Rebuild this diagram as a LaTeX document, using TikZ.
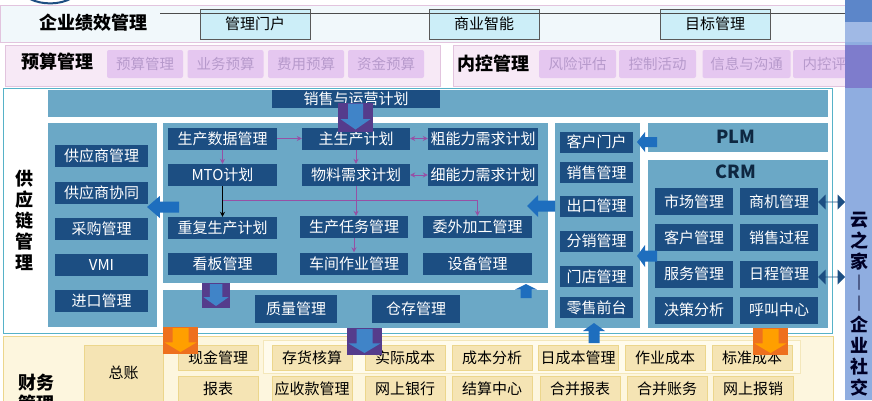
\documentclass[tikz,border=0pt]{standalone}
\usepackage{fontspec}
\setmainfont{Noto Sans CJK SC}
\usepackage{xcolor}
\definecolor{scblue}{RGB}{28,78,130}
\definecolor{scteal}{RGB}{107,168,198}
\definecolor{scframe}{RGB}{86,178,200}
\definecolor{topbg}{RGB}{241,248,251}
\definecolor{topline}{RGB}{226,196,222}
\definecolor{topcyan}{RGB}{204,238,248}
\definecolor{budbg}{RGB}{247,233,246}
\definecolor{budbox}{RGB}{229,199,240}
\definecolor{budtext}{RGB}{183,154,204}
\definecolor{finbg}{RGB}{253,246,222}
\definecolor{finpale}{RGB}{255,251,236}
\definecolor{finline}{RGB}{236,214,140}
\definecolor{finbox}{RGB}{245,228,180}
\definecolor{flowpurple}{RGB}{150,80,165}
\definecolor{arrblue}{RGB}{30,110,190}
\definecolor{arrpurple}{RGB}{85,60,140}
\definecolor{arrorange}{RGB}{238,112,30}
\definecolor{sidebar}{RGB}{143,173,224}
\definecolor{sidetop}{RGB}{92,134,201}
\definecolor{sidemid}{RGB}{126,124,204}
\usepackage{tikz}
\usetikzlibrary{arrows.meta, positioning, shapes.arrows}

\tikzset{
  dbox/.style={fill=scblue, text=white, inner sep=0pt, minimum height=22pt,
    font=\fontsize{15}{15}\selectfont},
  crmbox/.style={dbox, minimum width=78pt, minimum height=27pt},
  salebox/.style={dbox, minimum width=73pt, minimum height=21pt},
  supbox/.style={dbox, minimum width=93pt},
  topbox/.style={fill=topcyan, draw=gray!70!black, inner sep=0pt,
    minimum width=110pt, minimum height=30pt, font=\fontsize{15}{15}\selectfont},
  budgetbox/.style={fill=budbox, text=budtext, rounded corners=2pt, inner sep=0pt,
    minimum height=28pt, font=\fontsize{14.5}{14.5}\selectfont},
  finitem/.style={fill=finbox, draw=finline, inner sep=0pt, minimum width=80pt,
    font=\fontsize{15}{15}\selectfont},
  headline/.style={inner sep=0pt, font=\fontsize{18}{21}\selectfont\bfseries, align=center},
  flow/.style={flowpurple, line width=0.9pt, -{Stealth[length=5pt,width=5pt]}},
  twoway/.style={flowpurple, line width=0.9pt, {Stealth[length=5pt,width=5pt]}-{Stealth[length=5pt,width=5pt]}},
  fatdouble/.style={double arrow, draw=none, fill=scblue, inner sep=0pt,
    double arrow head extend=3pt, minimum width=15pt, minimum height=27pt},
  plate/.style={draw=none, inner sep=0pt, minimum width=35pt, minimum height=27pt},
  fatarrow/.pic={\path[pic actions] (-1,-0.5) -- (0.2,-0.5) -- (0.2,-1) -- (1,0)
    -- (0.2,1) -- (0.2,0.5) -- (-1,0.5) -- cycle;},
  blueway/.style={fill=arrblue},
  bluedrop/.style={fill=arrblue!85!white},
  orangedrop/.style={fill=orange!75!yellow}
}

\begin{document}
\begin{tikzpicture}[x=1pt, y=-1pt]
\useasboundingbox (0,0) rectangle (872,400);
\clip (0,0) rectangle (872,400);
\fill[white] (0,0) rectangle (872,400);
\draw[scblue, line width=2pt] (30,-1) .. controls (42,5) and (60,5) .. (72,-2);

% performance row
\draw[topline, fill=topbg] (0,5) rectangle (845,42);
\node[headline] (perf) at (93,23) {企业绩效管理};
\node[topbox] (portal) at (255,24) {管理门户};
\node[topbox] (bi) at (484,24) {商业智能};
\node[topbox] (goal) at (715,24) {目标管理};
\draw[gray!60!black, thin] (160,13) -- (845,13);

% budget and internal control row
\draw[topline, fill=budbg] (5,45) rectangle (440,86);
\draw[topline, fill=budbg] (453,45) rectangle (845,86);
\node[headline] (budget) at (57,62) {预算管理};
\node[budgetbox, minimum width=76pt] (bud1) at (145,64) {预算管理};
\node[budgetbox, minimum width=76pt] (bud2) at (225.5,64) {业务预算};
\node[budgetbox, minimum width=76pt] (bud3) at (306,64) {费用预算};
\node[budgetbox, minimum width=76pt] (bud4) at (386,64) {资金预算};
\node[headline] (control) at (493,64) {内控管理};
\node[budgetbox, minimum width=77pt] (ctl1) at (577.5,64) {风险评估};
\node[budgetbox, minimum width=77pt] (ctl2) at (657.5,64) {控制活动};
\node[budgetbox, minimum width=88pt] (ctl3) at (746.5,64) {信息与沟通};
\node[budgetbox, minimum width=77pt] (ctl4) at (831.5,64) {内控评价};

% supply chain
\draw[scframe, fill=white] (3,88) rectangle (832,333);
\fill[scteal] (48,90) rectangle (828,117);
\fill[scteal] (48,123) rectangle (157,327);
\fill[scteal] (163,123) rectangle (548,283);
\fill[scteal] (163,290) rectangle (548,328);
\fill[scteal] (555,123) rectangle (640,328);
\fill[scteal] (648,123) rectangle (828,152);
\fill[scteal] (648,160) rectangle (828,328);
\node[headline] (scm) at (25,220) {供\\应\\链\\管\\理};
\node[dbox, minimum width=168pt, minimum height=18pt] (sop) at (356,99) {销售与运营计划};

\node[supbox] (sup1) at (101.5,156) {供应商管理};
\node[supbox] (sup2) at (101.5,192.5) {供应商协同};
\node[supbox] (sup3) at (101.5,229) {采购管理};
\node[supbox] (sup4) at (101.5,264.5) {VMI};
\node[supbox] (sup5) at (101.5,301) {进口管理};

\node[dbox, minimum width=109pt] (pdm) at (222.5,138.5) {生产数据管理};
\node[dbox, minimum width=108pt] (mps) at (356,138.5) {主生产计划};
\node[dbox, minimum width=110pt] (rccp) at (483,138.5) {粗能力需求计划};
\node[dbox, minimum width=109pt] (mto) at (222.5,175) {MTO计划};
\node[dbox, minimum width=108pt] (mrp) at (356,175) {物料需求计划};
\node[dbox, minimum width=110pt] (crp) at (483,175) {细能力需求计划};
\node[dbox, minimum width=109pt] (rep) at (222.5,228) {重复生产计划};
\node[dbox, minimum width=108pt] (task) at (354,227) {生产任务管理};
\node[dbox, minimum width=109pt] (outs) at (477.5,227) {委外加工管理};
\node[dbox, minimum width=109pt] (kanban) at (222.5,263.5) {看板管理};
\node[dbox, minimum width=108pt] (shop) at (354,263.5) {车间作业管理};
\node[dbox, minimum width=109pt] (equip) at (477.5,263.5) {设备管理};
\node[dbox, minimum width=82pt, minimum height=28pt] (qual) at (296,309) {质量管理};
\node[dbox, minimum width=88pt, minimum height=28pt] (stock) at (416,309) {仓存管理};

\draw[flow] (pdm) -- (mps);
\draw[flow] (pdm) -- (mto);
\draw[flow] (mps) -- (mrp);
\draw[twoway] (mps) -- (rccp);
\draw[twoway] (mrp) -- (crp);
\coordinate (bus) at (222.5,200);
\draw[flow] (bus) -| (outs.north);
\draw[black, line width=0.9pt, -{Stealth[length=5pt,width=5pt]}] (mto) -- (rep);
\draw[flow] (mrp.south) -- (mrp.south |- task.north);
\draw[flow] (task) -- (shop);

\node[salebox] (sal1) at (596.5,142) {客户门户};
\node[salebox] (sal2) at (596.5,172.5) {销售管理};
\node[salebox] (sal3) at (596.5,206) {出口管理};
\node[salebox] (sal4) at (596.5,241) {分销管理};
\node[salebox] (sal5) at (596.5,276.5) {门店管理};
\node[salebox] (sal6) at (596.5,307.5) {零售前台};

\node[headline, text=scblue!50!black] (plm) at (736,137) {PLM};
\node[headline, text=scblue!50!black] (crm) at (736,172) {CRM};
\node[crmbox] (crm1) at (694,201.5) {市场管理};
\node[crmbox] (crm2) at (779,201.5) {商机管理};
\node[crmbox] (crm3) at (694,237.5) {客户管理};
\node[crmbox] (crm4) at (779,237.5) {销售过程};
\node[crmbox] (crm5) at (694,274) {服务管理};
\node[crmbox] (crm6) at (779,274) {日程管理};
\node[crmbox] (crm7) at (694,310) {决策分析};
\node[crmbox] (crm8) at (779,310) {呼叫中心};

% finance
\draw[finline, fill=finbg] (3,336) rectangle (833,410);
\draw[finline!60, fill=finpale] (263,340) rectangle (800,373);
\node[headline, anchor=north] (fin) at (36,374) {财务\\管理};
\node[fill=finbox, draw=finline, inner sep=0pt, minimum width=79pt, minimum height=95pt,
  font=\fontsize{15}{15}\selectfont, text depth=40pt] (ledger) at (123.5,392.5) {总账};
\node[finitem, minimum height=25pt] (fa1) at (218,357.5) {现金管理};
\node[finitem, minimum height=25pt] (fa2) at (312,357.5) {存货核算};
\node[finitem, minimum height=25pt] (fa3) at (405,357.5) {实际成本};
\node[finitem, minimum height=25pt] (fa4) at (492,357.5) {成本分析};
\node[finitem, minimum height=25pt] (fa5) at (578,357.5) {日成本管理};
\node[finitem, minimum height=25pt] (fa6) at (665,357.5) {作业成本};
\node[finitem, minimum height=25pt] (fa7) at (752,357.5) {标准成本};
\node[finitem, minimum height=26pt] (fb1) at (218,389) {报表};
\node[finitem, minimum height=26pt] (fb2) at (312,389) {应收款管理};
\node[finitem, minimum height=26pt] (fb3) at (405,389) {网上银行};
\node[finitem, minimum height=26pt] (fb4) at (492,389) {结算中心};
\node[finitem, minimum height=26pt] (fb5) at (580,389) {合并报表};
\node[finitem, minimum height=26pt] (fb6) at (667,389) {合并账务};
\node[finitem, minimum height=26pt] (fb7) at (753,389) {网上报销};

% block arrows
\node[plate, fill=arrpurple, minimum height=29pt] (pl1) at (355.5,117.5) {};
\pic[bluedrop, rotate=270, xscale=13, yscale=15] (dn1) at (355.5,116.5) {fatarrow};
\node[plate, fill=arrpurple, minimum width=28pt, minimum height=25pt] (pl2) at (216,295.5) {};
\pic[bluedrop, rotate=270, xscale=11, yscale=12.5] (dn2) at (216,295) {fatarrow};
\node[plate, fill=arrorange] (pl3) at (180.5,340.5) {};
\pic[orangedrop, rotate=270, xscale=12, yscale=16] (dn3) at (180.5,340) {fatarrow};
\node[plate, fill=arrpurple] (pl4) at (364.5,341.5) {};
\pic[bluedrop, rotate=270, xscale=12, yscale=16] (dn4) at (364.5,341) {fatarrow};
\node[plate, fill=arrorange] (pl5) at (770.5,341.5) {};
\pic[orangedrop, rotate=270, xscale=12, yscale=16] (dn5) at (770.5,341) {fatarrow};

\pic[blueway, rotate=180, xscale=16, yscale=11] (lf1) at (163,207) {fatarrow};
\pic[blueway, rotate=180, xscale=14, yscale=11] (lf2) at (541,206) {fatarrow};
\pic[blueway, rotate=180, xscale=10, yscale=10] (lf3) at (647,142) {fatarrow};
\pic[blueway, rotate=180, xscale=10, yscale=11] (lf4) at (647,256) {fatarrow};
\pic[fill=arrblue, rotate=90, xscale=7, yscale=11] (up1) at (526,291) {fatarrow};
\pic[fill=arrblue, rotate=90, xscale=10, yscale=11] (up2) at (594,333) {fatarrow};
\node[fatdouble] (bi1) at (831.5,202) {};
\node[fatdouble] (bi2) at (831.5,277) {};

% side bar
\fill[sidebar] (845,0) rectangle (872,400);
\fill[sidetop] (845,0) rectangle (872,22);
\fill[sidebar!85!white] (845,22) rectangle (872,42);
\fill[sidemid] (845,45) rectangle (872,88);
\node[headline, anchor=north, text=black!85!blue] (cloud) at (859.5,212)
  {云\\之\\家\\︱\\︱\\企\\业\\社\\交};
\end{tikzpicture}
\end{document}
